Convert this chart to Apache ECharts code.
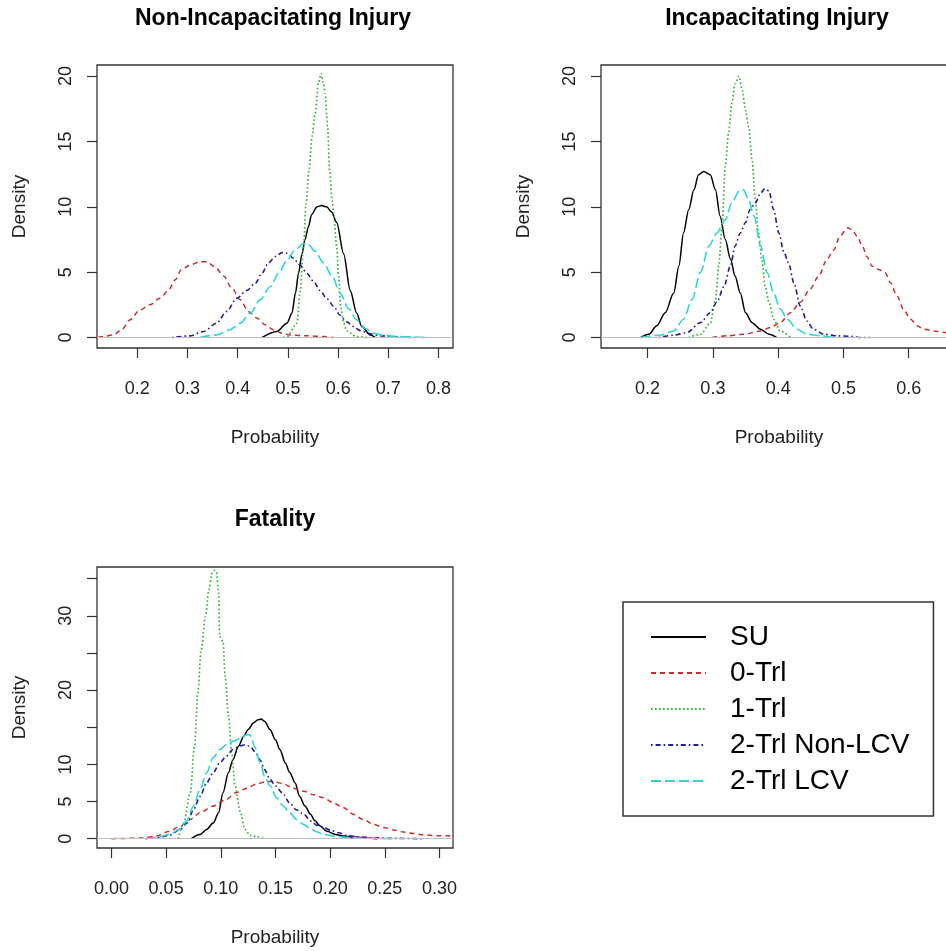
<!DOCTYPE html>
<html>
<head>
<meta charset="utf-8">
<script src="https://cdn.jsdelivr.net/npm/echarts@6/dist/echarts.min.js"></script>
<style>
html,body{margin:0;padding:0;background:#fff;overflow:hidden;}
#chart{width:962px;height:951px;}
</style>
</head>
<body>
<div id="chart"></div>
<script>
// ---------- DATA ----------
const seriesNames = ['SU', '0-Trl', '1-Trl', '2-Trl Non-LCV', '2-Trl LCV'];
const panelTitles = ['Non-Incapacitating Injury', 'Incapacitating Injury', 'Fatality'];

// Panel 1: Non-Incapacitating Injury  [probability, density]
const ni_SU = [[0.448,0],[0.478,0.46],[0.498,1.1],[0.508,1.86],[0.515,3.4],[0.521,4.9],[0.528,6.4],[0.534,7.5],[0.541,8.5],[0.547,9.4],[0.558,10.0],[0.567,10.1],[0.577,10.0],[0.587,9.6],[0.597,8.8],[0.611,6.4],[0.624,3.6],[0.637,1.86],[0.647,0.84],[0.664,0.2],[0.674,0]];
const ni_T0 = [[0.122,0],[0.132,0.08],[0.152,0.2],[0.169,0.6],[0.185,1.35],[0.205,2.1],[0.225,2.5],[0.245,3.0],[0.262,3.6],[0.275,4.4],[0.288,5.2],[0.305,5.55],[0.325,5.8],[0.338,5.8],[0.355,5.4],[0.372,4.7],[0.388,3.8],[0.405,2.9],[0.421,2.0],[0.438,1.5],[0.455,0.97],[0.471,0.6],[0.488,0.33],[0.504,0.2],[0.538,0.13],[0.571,0.08],[0.591,0]];
const ni_T1 = [[0.491,0],[0.498,0.05],[0.518,1.1],[0.524,3.4],[0.531,6.9],[0.536,10.2],[0.542,12.8],[0.548,15.4],[0.554,17.1],[0.561,19.5],[0.566,20.2],[0.571,19.4],[0.574,18.7],[0.579,16.1],[0.583,12.8],[0.588,10.5],[0.591,9.5],[0.597,7.0],[0.601,4.7],[0.605,2.4],[0.611,1.1],[0.617,0.5],[0.637,0.08],[0.657,0]];
const ni_T2N = [[0.269,0],[0.305,0.13],[0.332,0.46],[0.358,1.1],[0.378,2.0],[0.398,3.0],[0.418,3.6],[0.435,4.15],[0.448,4.9],[0.461,5.7],[0.475,6.2],[0.488,6.5],[0.498,6.45],[0.511,6.06],[0.524,5.55],[0.538,4.9],[0.551,4.3],[0.564,3.6],[0.577,3.0],[0.591,2.4],[0.604,1.7],[0.617,1.2],[0.631,0.84],[0.644,0.53],[0.664,0.28],[0.684,0.13],[0.717,0.05],[0.750,0]];
const ni_T2L = [[0.325,0],[0.358,0.2],[0.385,0.6],[0.405,1.1],[0.425,1.86],[0.445,2.9],[0.465,3.9],[0.481,4.9],[0.498,5.9],[0.514,6.7],[0.531,7.2],[0.541,7.1],[0.554,6.6],[0.571,5.7],[0.588,4.7],[0.604,3.4],[0.621,2.2],[0.637,1.35],[0.654,0.7],[0.670,0.33],[0.690,0.18],[0.717,0.08],[0.744,0.05],[0.777,0]];

// Panel 2: Incapacitating Injury
const ii_SU = [[0.189,0],[0.202,0.25],[0.214,0.9],[0.227,1.9],[0.240,3.4],[0.248,5.5],[0.255,8.0],[0.263,9.8],[0.271,11.3],[0.278,12.45],[0.286,12.7],[0.296,12.45],[0.304,11.3],[0.311,9.3],[0.319,7.5],[0.327,6.0],[0.334,4.7],[0.342,3.4],[0.350,1.9],[0.360,1.14],[0.373,0.64],[0.386,0.25],[0.398,0]];
const ii_T0 = [[0.299,0],[0.322,0.13],[0.347,0.25],[0.373,0.5],[0.388,0.76],[0.403,1.14],[0.419,1.9],[0.434,2.7],[0.449,3.7],[0.462,4.7],[0.475,6.0],[0.485,6.7],[0.495,7.75],[0.506,8.4],[0.513,8.26],[0.521,7.75],[0.529,7.0],[0.536,6.2],[0.544,5.46],[0.554,5.2],[0.564,4.95],[0.572,4.2],[0.582,3.2],[0.592,2.16],[0.603,1.4],[0.613,0.9],[0.623,0.64],[0.638,0.5],[0.658,0.38],[0.673,0.3]];
const ii_T1 = [[0.263,0],[0.281,0.25],[0.296,1.1],[0.304,2.9],[0.309,5.5],[0.314,8.5],[0.319,13.1],[0.324,15.6],[0.329,17.9],[0.334,19.4],[0.340,20.0],[0.345,18.9],[0.350,17.4],[0.355,16.1],[0.360,13.6],[0.365,10.5],[0.370,8.0],[0.375,6.0],[0.380,3.9],[0.386,2.7],[0.393,1.4],[0.403,0.5],[0.419,0]];
const ii_T2N = [[0.217,0],[0.240,0.18],[0.260,0.38],[0.281,1.14],[0.296,1.9],[0.306,2.7],[0.317,3.9],[0.327,5.5],[0.334,7.0],[0.342,8.0],[0.350,8.8],[0.357,9.8],[0.365,10.3],[0.373,11.05],[0.380,11.4],[0.386,11.2],[0.393,9.8],[0.401,8.0],[0.409,6.5],[0.416,5.7],[0.424,4.2],[0.434,2.4],[0.444,1.27],[0.454,0.64],[0.470,0.25],[0.490,0.13],[0.511,0.1],[0.526,0],[0.541,0]];
const ii_T2L = [[0.189,0],[0.219,0.18],[0.240,0.5],[0.255,1.4],[0.268,2.9],[0.281,5.0],[0.294,7.0],[0.306,8.0],[0.319,9.0],[0.329,10.3],[0.340,11.2],[0.347,11.3],[0.355,10.5],[0.363,9.3],[0.373,7.0],[0.383,5.0],[0.393,3.4],[0.403,2.2],[0.414,1.4],[0.429,0.64],[0.444,0.25],[0.465,0.13],[0.485,0]];

// Panel 3: Fatality
const fa_SU = [[0.073,0],[0.081,0.58],[0.087,1.25],[0.093,2.1],[0.098,3.5],[0.102,6.2],[0.107,8.9],[0.111,10.6],[0.116,12.4],[0.121,13.8],[0.125,14.7],[0.130,15.6],[0.134,16.0],[0.137,16.1],[0.140,15.8],[0.145,14.7],[0.150,13.3],[0.154,12.0],[0.159,10.2],[0.163,8.9],[0.168,7.5],[0.172,5.7],[0.177,4.4],[0.182,3.3],[0.186,2.4],[0.191,1.7],[0.197,1.0],[0.205,0.58],[0.212,0.36],[0.221,0.22],[0.234,0.1],[0.243,0]];
const fa_T0 = [[0.0,0],[0.011,0.03],[0.029,0.1],[0.041,0.36],[0.053,1.0],[0.063,1.7],[0.072,2.6],[0.081,3.5],[0.093,4.4],[0.105,5.3],[0.114,6.2],[0.124,6.8],[0.133,7.4],[0.142,7.7],[0.148,7.7],[0.157,7.4],[0.166,6.8],[0.176,6.4],[0.185,5.9],[0.194,5.5],[0.203,4.8],[0.212,4.2],[0.221,3.3],[0.230,2.6],[0.240,1.9],[0.249,1.5],[0.258,1.16],[0.267,0.9],[0.276,0.7],[0.285,0.54],[0.298,0.4],[0.312,0.36]];
const fa_T1 = [[0.061,0],[0.066,2.1],[0.072,6.1],[0.076,12.4],[0.079,19.6],[0.082,25.4],[0.086,29.9],[0.089,33.4],[0.092,35.7],[0.094,36.1],[0.096,35.9],[0.098,33.0],[0.099,27.2],[0.102,26.6],[0.104,21.9],[0.107,16.5],[0.110,11.6],[0.113,7.1],[0.118,3.5],[0.122,1.25],[0.127,0.45],[0.133,0.27],[0.140,0]];
const fa_T2N = [[0.031,0],[0.041,0.1],[0.053,0.45],[0.063,1.25],[0.069,2.1],[0.075,3.9],[0.081,5.7],[0.087,7.5],[0.093,8.85],[0.099,10.2],[0.105,11.1],[0.111,12.0],[0.118,12.5],[0.122,12.65],[0.127,12.4],[0.131,11.75],[0.136,10.6],[0.140,9.3],[0.145,8.0],[0.150,7.1],[0.156,6.2],[0.163,4.8],[0.169,3.9],[0.176,3.3],[0.182,2.4],[0.188,1.8],[0.194,1.5],[0.200,1.16],[0.208,0.8],[0.215,0.45],[0.224,0.27],[0.240,0.13],[0.255,0.05],[0.285,0]];
const fa_T2L = [[0.031,0],[0.041,0.13],[0.053,0.58],[0.063,1.34],[0.069,2.4],[0.075,4.4],[0.081,6.6],[0.087,8.85],[0.093,10.9],[0.099,12.0],[0.105,12.65],[0.111,13.1],[0.118,13.5],[0.124,14.0],[0.127,13.9],[0.131,12.4],[0.136,10.2],[0.140,8.4],[0.145,7.1],[0.151,5.5],[0.157,4.4],[0.163,3.5],[0.169,2.6],[0.176,1.9],[0.182,1.34],[0.188,0.9],[0.194,0.58],[0.203,0.36],[0.215,0.18],[0.230,0.09],[0.255,0]];

// Tick values
const xTicks1 = [0.2, 0.3, 0.4, 0.5, 0.6, 0.7, 0.8];
const xTicks2 = [0.2, 0.3, 0.4, 0.5, 0.6];
const xTicks3 = [0.00, 0.05, 0.10, 0.15, 0.20, 0.25, 0.30];
const yTicks12 = [0, 5, 10, 15, 20];
const yTicks3 = [0, 5, 10, 15, 20, 25, 30, 35];
const yLabels3 = [0, 5, 10, 20, 30];

// ---------- STYLE ----------
const FONT = '"Liberation Sans", Arial, Helvetica, sans-serif';
const colors = ['#000000', '#CC2E2E', '#2DB82D', '#1E1EA0', '#2CD6D8'];
const dashes = ['solid', [5, 4], [1.6, 2.4], [1.6, 3, 5, 3], [10, 4]];
const widths = [1.5, 1.5, 1.7, 1.6, 1.6];

const panels = [
  { data: [ni_SU, ni_T0, ni_T1, ni_T2N, ni_T2L], xMin: 0.1198, xMax: 0.8287, yMin: -0.8, yMax: 20.85, xTicks: xTicks1, xDec: 1, yTicks: yTicks12, yLabels: yTicks12,
    grid: { left: 97, top: 65, width: 356, height: 283 }, titleX: 273 },
  { data: [ii_SU, ii_T0, ii_T1, ii_T2N, ii_T2L], xMin: 0.1286, xMax: 0.6740, yMin: -0.8, yMax: 20.85, xTicks: xTicks2, xDec: 1, yTicks: yTicks12, yLabels: yTicks12,
    grid: { left: 601, top: 65, width: 356, height: 283 }, titleX: 777 },
  { data: [fa_SU, fa_T0, fa_T1, fa_T2N, fa_T2L], xMin: -0.0132, xMax: 0.3123, yMin: -1.25, yMax: 36.56, xTicks: xTicks3, xDec: 2, yTicks: yTicks3, yLabels: yLabels3,
    grid: { left: 97, top: 567, width: 356, height: 281 }, titleX: 275 }
];

const grids = [], xAxes = [], yAxes = [], series = [], graphics = [];
const titleY = [18.5, 18.5, 520];

panels.forEach((p, i) => {
  grids.push(Object.assign({ show: true, borderColor: '#333', borderWidth: 1.3, backgroundColor: 'transparent', containLabel: false }, p.grid));
  xAxes.push({
    type: 'value', gridIndex: i, min: p.xMin, max: p.xMax,
    axisLine: { show: false, onZero: false },
    splitLine: { show: false },
    axisTick: { show: true, length: 10, customValues: p.xTicks, lineStyle: { color: '#333', width: 1.2 } },
    axisLabel: { customValues: p.xTicks, margin: 32, fontSize: 18, color: '#222', fontFamily: FONT,
      formatter: v => Number(v).toFixed(p.xDec) },
    name: 'Probability', nameLocation: 'middle', nameGap: 80,
    nameTextStyle: { fontSize: 19, color: '#222', fontFamily: FONT }
  });
  yAxes.push({
    type: 'value', gridIndex: i, min: p.yMin, max: p.yMax,
    axisLine: { show: false, onZero: false },
    splitLine: { show: false },
    axisTick: { show: true, length: 10, customValues: p.yTicks, lineStyle: { color: '#333', width: 1.2 } },
    axisLabel: { customValues: p.yLabels, rotate: 90, margin: 22, fontSize: 18, color: '#222', fontFamily: FONT },
    name: 'Density', nameLocation: 'middle', nameGap: 68, nameRotate: 90,
    nameTextStyle: { fontSize: 19, color: '#222', fontFamily: FONT }
  });
  p.data.forEach((d, k) => {
    const s = {
      type: 'line', name: seriesNames[k], xAxisIndex: i, yAxisIndex: i,
      data: d, symbol: 'none', showSymbol: false, smooth: 0.3, smoothMonotone: 'x',
      lineStyle: { color: colors[k], width: widths[k], type: dashes[k] },
      itemStyle: { color: colors[k] },
      clip: true, animation: false
    };
    if (k === 0) {
      s.markLine = { silent: true, symbol: 'none', animation: false,
        label: { show: false },
        lineStyle: { color: '#BEBEBE', type: 'solid', width: 1.2 },
        data: [{ yAxis: 0 }] };
    }
    series.push(s);
  });
  graphics.push({
    type: 'text', x: p.titleX, y: titleY[i],
    style: { text: panelTitles[i], fontSize: 23, fontWeight: 'bold', fontFamily: FONT, fill: '#000', align: 'center', verticalAlign: 'middle' }
  });
});

const chart = echarts.init(document.getElementById('chart'), null, { renderer: 'canvas' });
chart.setOption({
  backgroundColor: '#ffffff',
  animation: false,
  grid: grids,
  xAxis: xAxes,
  yAxis: yAxes,
  series: series,
  graphic: graphics,
  legend: {
    data: seriesNames,
    orient: 'vertical',
    left: 623, top: 602,
    selectedMode: false,
    itemWidth: 55, itemHeight: 28, itemGap: 8,
    padding: [21, 24, 21, 27],
    borderColor: '#333', borderWidth: 1.5,
    itemStyle: { opacity: 0 },
    textStyle: { fontSize: 28, color: '#000', fontFamily: FONT, lineHeight: 28, padding: [0, 0, 0, 19] }
  }
});
</script>
</body>
</html>
